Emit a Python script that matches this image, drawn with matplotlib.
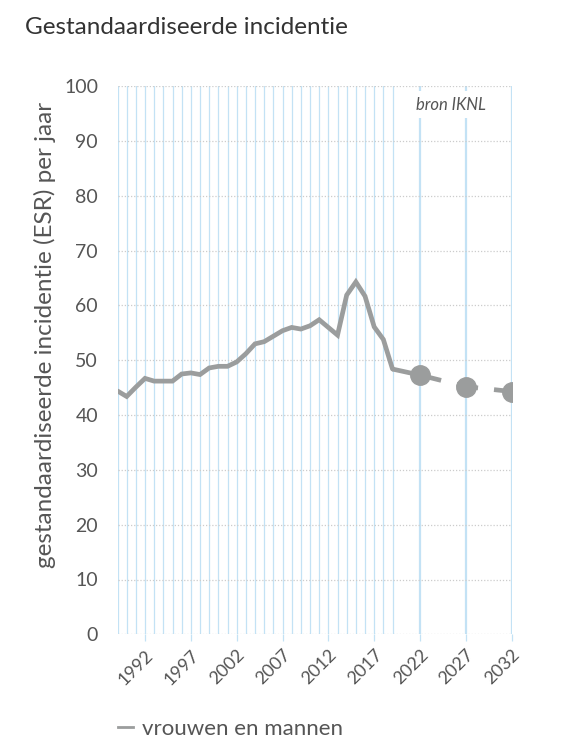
import matplotlib
matplotlib.use("Agg")
import matplotlib.pyplot as plt
from matplotlib.lines import Line2D

plt.rcParams['font.family'] = ['Lato', 'DejaVu Sans']

# ---- data ----
obs_years = list(range(1989, 2020))
obs_values = [44.4, 43.4, 45.1, 46.7, 46.2, 46.2, 46.2, 47.5, 47.7, 47.4,
              48.6, 48.9, 48.9, 49.7, 51.2, 53.0, 53.4, 54.4, 55.4, 56.0,
              55.7, 56.3, 57.4, 56.0, 54.6, 61.9, 64.3, 61.7, 56.1, 53.8, 48.4]
proj_years = [2022, 2027, 2032]
proj_values = [47.3, 45.2, 44.3]
xtick_years = [1992, 1997, 2002, 2007, 2012, 2017, 2022, 2027, 2032]
ytick_values = [0, 10, 20, 30, 40, 50, 60, 70, 80, 90, 100]
series_label = "vrouwen en mannen"
title = "Gestandaardiseerde incidentie"
ylabel = "gestandaardiseerde incidentie (ESR) per jaar"
source = "bron IKNL"

LINE = "#9b9d9d"
GRIDBLUE = "#c3e2f5"
TXT = "#555555"

fig = plt.figure(figsize=(5.76, 7.48), dpi=100)
ax = fig.add_axes([117.5/576, 1-634.3/748, (511.7-117.5)/576, (634.3-86.3)/748])
ax.set_xlim(1989, 2032)
ax.set_ylim(0, 100)

# vertical grid lines
for yr in obs_years:
    ax.axvline(yr, color=GRIDBLUE, lw=0.9, zorder=0)
for yr in proj_years:
    ax.axvline(yr, color=GRIDBLUE, lw=1.6, zorder=0)
# horizontal dotted grid
for v in ytick_values:
    ax.axhline(v, color="#cccccc", lw=0.9, ls=(0, (1, 1.5)), zorder=0)

for s in ax.spines.values():
    s.set_visible(False)

ax.set_xticks(xtick_years)
ax.set_xticklabels([str(y) for y in xtick_years], rotation=45, ha='right',
                   rotation_mode='anchor', color=TXT, fontsize=13)
ax.tick_params(axis='x', length=5, width=0.9, color=GRIDBLUE, pad=4)
ax.set_yticks(ytick_values)
ax.set_yticklabels([str(v) for v in ytick_values], color=TXT, fontsize=14)
ax.tick_params(axis='y', length=0, pad=14)

# observed line
ax.plot(obs_years, obs_values, color=LINE, lw=3.4, solid_joinstyle='miter',
        solid_capstyle='round', zorder=3)
# connection to first projection
ax.plot([obs_years[-1], proj_years[0]], [obs_values[-1], proj_values[0]],
        color=LINE, lw=3.4, solid_capstyle='butt', zorder=3)
# dashed projection
ax.plot(proj_years, proj_values, color=LINE, lw=3.4,
        linestyle=(0, (4.6, 3.4)), dash_capstyle='butt', zorder=3)
ax.plot(proj_years, proj_values, 'o', color=LINE, markersize=14, zorder=4)

ax.text(0.935, 0.966, source, transform=ax.transAxes, ha='right', va='center',
        fontsize=12, style='italic', color=TXT,
        bbox=dict(facecolor='white', edgecolor='none', pad=4), zorder=5)

fig.text(25/576, 1-27/748, title, fontsize=17.5, color="#333333", ha='left', va='center')
fig.text(45/576, 1-335/748, ylabel, rotation=90, fontsize=17.5, color=TXT,
         ha='center', va='center')

handle = Line2D([0], [0], color=LINE, lw=2)
fig.legend([handle], [series_label], loc='center left',
           bbox_to_anchor=(118/576, 1-729/748), frameon=False,
           borderpad=0, borderaxespad=0,
           handlelength=0.68, handletextpad=0.4, fontsize=16,
           labelcolor=TXT)

fig.savefig("out.png", dpi=100)
